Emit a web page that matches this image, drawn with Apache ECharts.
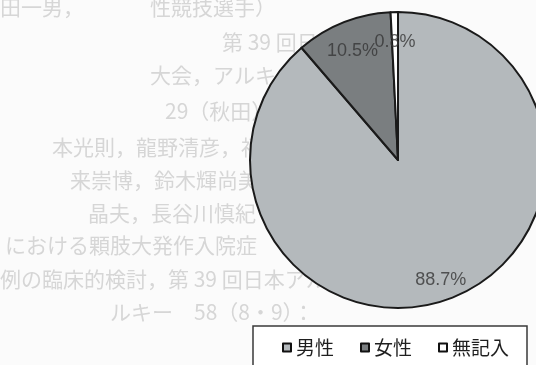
<!DOCTYPE html>
<html>
<head>
<meta charset="utf-8">
<script src="https://cdn.jsdelivr.net/npm/echarts@6/dist/echarts.min.js"></script>
<style>
  html, body { margin: 0; padding: 0; background: #fbfbfb; }
  #chart { width: 536px; height: 365px; }
</style>
</head>
<body>
<div id="chart"></div>
<script>
// Respondent breakdown by sex (percent of total)
const categories = ['男性', '女性', '無記入'];
const shares = [88.7, 10.5, 0.8];
const sliceColors = ['#b4b9bc', '#7a7e80', '#ffffff'];

// Faint print showing through from the reverse side of the page: [text, x, y]
const throughText = [
  ['田一男，', 0, 8],
  ['性競技選手）', 150, 8],
  ['第 39 回日本ア', 222, 43],
  ['大会，アルキー　58', 150, 76],
  ['29（秋田）', 165, 112],
  ['本光則，龍野清彦，福', 52, 148],
  ['来崇博，鈴木輝尚美', 70, 181],
  ['晶夫，長谷川慎紀', 88, 214],
  ['における顆肢大発作入院症', 5, 246],
  ['例の臨床的検討，第 39 回日本アルキー', 0, 280],
  ['ルキー　58（8・9）：', 110, 313]
];

const CENTER = [398, 160];
const RADIUS = 148;
const LABEL_R = 0.83; // label distance as a fraction of the radius

const chart = echarts.init(document.getElementById('chart'), null, { renderer: 'canvas' });

const pieData = categories.map((name, i) => ({
  name: name,
  value: shares[i],
  itemStyle: { color: sliceColors[i] }
}));

// label anchors: middle of each slice on a 0–100 clockwise angle scale
const total = shares.reduce((a, b) => a + b, 0);
let acc = 0;
const labelPoints = shares.map((v) => {
  const mid = acc + v / 2;
  acc += v;
  return { value: [LABEL_R, (mid / total) * 100], share: v };
});

chart.setOption({
  backgroundColor: '#fbfbfb',
  animation: false,
  graphic: throughText.map(([t, x, y]) => ({
    type: 'text',
    left: x,
    top: y - 11,
    silent: true,
    style: {
      text: t,
      fill: '#d6d6d6',
      font: '21px "Noto Sans CJK JP"',
      shadowBlur: 3,
      shadowColor: '#d8d8d8'
    }
  })),
  polar: { center: CENTER, radius: RADIUS },
  angleAxis: {
    type: 'value', min: 0, max: 100, startAngle: 90, clockwise: true,
    show: false
  },
  radiusAxis: { type: 'value', min: 0, max: 1, show: false },
  legend: {
    data: categories,
    orient: 'horizontal',
    left: 253,
    top: 326,
    icon: 'rect',
    itemWidth: 8,
    itemHeight: 8,
    itemGap: 26,
    padding: [12, 18, 40, 29],
    backgroundColor: '#ffffff',
    borderColor: '#3a3a3a',
    borderWidth: 1.5,
    itemStyle: { borderColor: '#111111', borderWidth: 2 },
    textStyle: {
      fontFamily: '"Noto Sans CJK JP"',
      fontSize: 19,
      color: '#1f1f1f'
    }
  },
  series: [
    {
      type: 'pie',
      center: CENTER,
      radius: RADIUS,
      startAngle: 90,
      clockwise: true,
      silent: true,
      label: { show: false },
      labelLine: { show: false },
      itemStyle: { borderColor: '#1a1a1a', borderWidth: 2 },
      data: pieData
    },
    {
      type: 'scatter',
      coordinateSystem: 'polar',
      symbolSize: 0,
      silent: true,
      z: 5,
      label: {
        show: true,
        position: 'inside',
        offset: [0, 5],
        formatter: (p) => p.data.share + '%',
        fontFamily: '"Liberation Sans", Arial, sans-serif',
        fontSize: 18,
        color: '#363636'
      },
      data: labelPoints
    }
  ]
});
</script>
</body>
</html>
